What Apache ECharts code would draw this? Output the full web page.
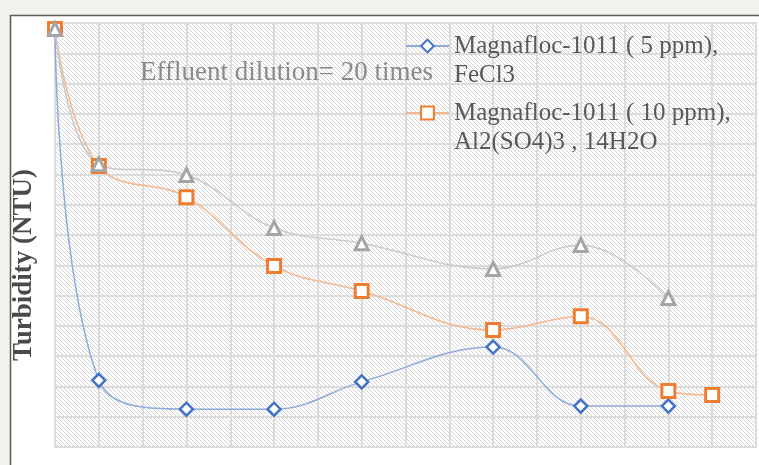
<!DOCTYPE html>
<html>
<head>
<meta charset="utf-8">
<script src="https://cdn.jsdelivr.net/npm/echarts@6/dist/echarts.min.js"></script>
<style>
  html, body { margin: 0; padding: 0; background: #f2f2ed; }
  #chart { width: 759px; height: 465px; }
</style>
</head>
<body>
<div id="chart"></div>
<script>
// positions along the (unlabelled) x axis
var xBlue = [0, 1, 3, 5, 7, 10, 12, 14];
var xOrange = [0, 1, 3, 5, 7, 10, 12, 14, 15];
var xGrey = [0, 1, 3, 5, 7, 10, 12, 14];

// turbidity readings (grid units)
var blueVals = [13.8, 2.2, 1.25, 1.25, 2.15, 3.3, 1.35, 1.35];
var orangeVals = [13.8, 9.28, 8.25, 5.98, 5.15, 3.86, 4.32, 1.85, 1.72];
var greyVals = [13.8, 9.34, 8.98, 7.23, 6.73, 5.88, 6.67, 4.92];

var names = ['Magnafloc-1011 ( 5 ppm),\nFeCl3', 'Magnafloc-1011 ( 10 ppm),\nAl2(SO4)3 , 14H2O', 'grey'];

function pairs(xs, ys) {
	var out = [];
	for (var i = 0; i < ys.length; i++) out.push([xs[i], ys[i]]);
	return out;
}

// hatch pattern for the plot background
var hatch = document.createElement('canvas');
hatch.width = 4; hatch.height = 4;
var hc = hatch.getContext('2d');
hc.fillStyle = '#ffffff';
hc.fillRect(0, 0, 4, 4);
hc.strokeStyle = '#d4d4d4';
hc.lineWidth = 1;
hc.beginPath();
hc.moveTo(-1, -1); hc.lineTo(5, 5);
hc.moveTo(3, -1); hc.lineTo(5, 1);
hc.moveTo(-1, 3); hc.lineTo(1, 5);
hc.stroke();

var chart = echarts.init(document.getElementById('chart'));
var serif = '"Liberation Serif", "Times New Roman", serif';

// one legend box per item, first text line level with the icon
function legendBox(name, top) {
	return {
		data: [name],
		orient: 'vertical',
		left: 405,
		top: top,
		padding: 0,
		itemWidth: 43,
		itemHeight: 16,
		formatter: function (n) { return '\n' + n; },
		textStyle: { fontFamily: serif, fontSize: 25, color: '#595959', lineHeight: 29 }
	};
}

var option = {
	backgroundColor: '#f2f2ed',
	animation: false,
	graphic: [{
		type: 'rect',
		z: -10,
		shape: { x: 10.5, y: 15.5, width: 800, height: 500 },
		style: { fill: '#ffffff', stroke: '#5a5a5a', lineWidth: 1.5 }
	}],
	title: {
		text: 'Effluent dilution= 20 times',
		left: 135,
		top: 54,
		textStyle: { fontFamily: serif, fontSize: 27, fontWeight: 'normal', color: '#8a8a8a' }
	},
	grid: {
		left: 55, top: 23, right: 3, bottom: 18,
		outerBoundsMode: 'none',
		containLabel: false,
		show: true,
		backgroundColor: { image: hatch, repeat: 'repeat' },
		borderColor: '#dcdcdc',
		borderWidth: 2
	},
	legend: [legendBox(names[0], 2.5), legendBox(names[1], 69.5)],
	xAxis: {
		type: 'value',
		min: 0, max: 16, interval: 1,
		axisLine: { show: false },
		axisTick: { show: false },
		axisLabel: { show: false },
		splitLine: { lineStyle: { color: '#dcdcdc', width: 2 } }
	},
	yAxis: {
		type: 'value',
		min: 0, max: 14, interval: 1,
		name: 'Turbidity (NTU)',
		nameLocation: 'middle',
		nameGap: 17,
		nameTextStyle: {
			fontFamily: serif, fontSize: 27, fontWeight: 'bold', color: '#4a4a4a',
			padding: [0, 60, 0, 0]
		},
		axisLine: { show: false },
		axisTick: { show: false },
		axisLabel: { show: false },
		splitLine: { lineStyle: { color: '#dcdcdc', width: 2 } }
	},
	series: [{
		name: names[0],
		type: 'line',
		smooth: 0.4,
		data: pairs(xBlue, blueVals),
		symbol: 'diamond',
		symbolSize: 13,
		lineStyle: { color: '#8eaadc', width: 1.5 },
		itemStyle: { color: '#ffffff', borderColor: '#4472c4', borderWidth: 2.5 }
	}, {
		name: names[1],
		type: 'line',
		smooth: 0.4,
		data: pairs(xOrange, orangeVals),
		symbol: 'rect',
		symbolSize: 13,
		lineStyle: { color: '#f5b88e', width: 1.5 },
		itemStyle: { color: '#ffffff', borderColor: '#ed7d31', borderWidth: 3 }
	}, {
		name: names[2],
		type: 'line',
		smooth: 0.4,
		data: pairs(xGrey, greyVals),
		symbol: 'triangle',
		symbolSize: 13,
		lineStyle: { color: '#c9c9c9', width: 1.5 },
		itemStyle: { color: '#ffffff', borderColor: '#a5a5a5', borderWidth: 3 }
	}]
};
chart.setOption(option);
</script>
</body>
</html>
